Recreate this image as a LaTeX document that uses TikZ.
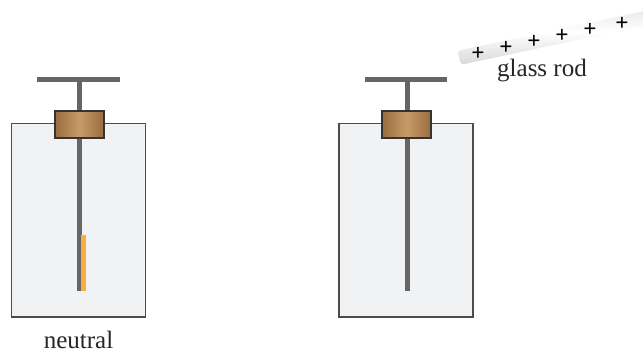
\documentclass[tikz,border=0pt]{standalone}
\usepackage{fontspec}
\setmainfont{Liberation Serif}
\tikzset{
  jarbox/.style={draw=black!70,line width=0.4mm,fill=jarfill,minimum width=33.5mm,minimum height=48.4mm,inner sep=0pt},
  plugbox/.style={draw=black!80,line width=0.45mm,left color=plugdark,right color=plugdark,middle color=pluglight,minimum width=12.2mm,minimum height=6.7mm,inner sep=0pt},
  metal/.style={draw=black!60,line width=1.25mm},
  rodbox/.style={rotate=12,rounded corners=0.8mm,top color=black!12,bottom color=black!15,middle color=white,minimum width=62mm,minimum height=3.6mm,inner sep=0pt},
  chargemark/.style={font=\fontsize{16.5}{16.5}\selectfont\bfseries,inner sep=0pt},
  caption/.style={font=\fontsize{17.8}{20}\selectfont,text=black!85,inner sep=0pt}
}
\definecolor{jarfill}{HTML}{F1F2F4}
\definecolor{plugdark}{HTML}{9A6C40}
\definecolor{pluglight}{HTML}{C89C68}
\definecolor{leaforange}{HTML}{F9AE3B}
\begin{document}
\begin{tikzpicture}[x=0.25mm,y=-0.25mm]
\clip (0,0) rectangle (643,352);
% left jar
\node[jarbox] (jar0) at (78.5,220.3) {};
\coordinate (bar0l) at (37,80);
\coordinate (bar0r) at (120,80);
\coordinate (top0) at (79.5,80);
\coordinate (tip0) at (79.5,291);
\draw[metal] (top0)--(tip0);
\draw[metal] (bar0l)--(bar0r);
\node[plugbox] (plug0) at (79.5,124.5) {};
\coordinate (leaf0t) at (83.5,235);
\coordinate (leaf0b) at (83.5,291);
\draw[draw=leaforange,line width=1.15mm] (leaf0t)--(leaf0b);
\node[caption] (neutral) at (78.5,340) {neutral};
% right jar
\node[jarbox] (jar1) at (406.2,220.3) {};
\coordinate (bar1l) at (365,80);
\coordinate (bar1r) at (447,80);
\coordinate (top1) at (407,80);
\coordinate (tip1) at (407,291);
\draw[metal] (top1)--(tip1);
\draw[metal] (bar1l)--(bar1r);
\node[plugbox] (plug1) at (406.5,124.5) {};
% rod
\node[rodbox] (rod) at (580.5,32) {};
\node[chargemark] (c0) at (478,54) {+};
\node[chargemark] (c1) at (506,48) {+};
\node[chargemark] (c2) at (534,42) {+};
\node[chargemark] (c3) at (562,36) {+};
\node[chargemark] (c4) at (590,30) {+};
\node[chargemark] (c5) at (622,24) {+};
\node[caption] (rodlabel) at (542,71) {glass rod};
\end{tikzpicture}
\end{document}
